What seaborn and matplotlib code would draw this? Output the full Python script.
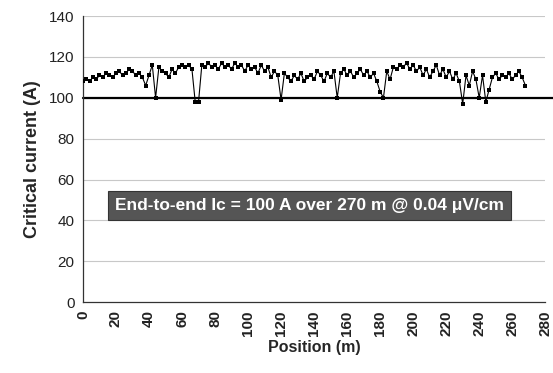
import numpy as np
import pandas as pd
import matplotlib
matplotlib.use('Agg')
import matplotlib.pyplot as plt
import seaborn as sns

# critical current, one value every 2 m
ic_0_38 = [108, 109, 108, 110, 109, 111, 110, 112, 111, 110,
           112, 113, 111, 112, 114, 113, 111, 112, 110, 106]
ic_40_78 = [111, 116, 100, 115, 113, 112, 110, 114, 112, 115,
            116, 115, 116, 114, 98, 98, 116, 115, 117, 115]
ic_80_118 = [116, 114, 117, 115, 116, 114, 117, 115, 116, 113,
             116, 114, 115, 112, 116, 113, 115, 110, 113, 111]
ic_120_158 = [99, 112, 110, 108, 111, 109, 112, 108, 110, 111,
              109, 113, 111, 108, 112, 110, 113, 100, 112, 114]
ic_160_198 = [111, 113, 110, 112, 114, 111, 113, 110, 112, 108,
              103, 100, 113, 109, 115, 114, 116, 115, 117, 114]
ic_200_238 = [116, 113, 115, 111, 114, 110, 113, 116, 111, 114,
              110, 113, 109, 112, 108, 97, 111, 106, 113, 109]
ic_240_268 = [100, 111, 98, 104, 110, 112, 109, 111, 110, 112,
              109, 111, 113, 110, 106]

current = ic_0_38 + ic_40_78 + ic_80_118 + ic_120_158 + ic_160_198 + ic_200_238 + ic_240_268
position = np.arange(0, 2 * len(current), 2)

y_ticks = [0, 20, 40, 60, 80, 100, 120, 140]
x_ticks = list(range(0, 281, 20))
ic_threshold = 100
note = 'End-to-end Ic = 100 A over 270 m @ 0.04 \u03bcV/cm'

df = pd.DataFrame({'position': position, 'current': current})

sns.set_style('white')
plt.rcParams['font.family'] = ['Liberation Sans', 'DejaVu Sans']

fig = plt.figure(figsize=(5.53, 3.73), dpi=100)
ax = fig.add_axes([0.150, 0.190, 0.836, 0.767])

for yv in y_ticks[1:]:
    ax.axhline(yv, color='#c8c8c8', lw=0.8, zorder=0)

sns.lineplot(data=df, x='position', y='current', ax=ax, color='black', lw=0.8,
             marker='s', markersize=2.5, markeredgewidth=0, zorder=3)

ax.axhline(ic_threshold, xmin=0, xmax=1.03, color='black', lw=1.6, clip_on=False, zorder=2)

ax.set_xlim(0, 280)
ax.set_ylim(0, 140)
ax.set_xticks(x_ticks)
ax.set_yticks(y_ticks)
ax.set_xticklabels([str(t) for t in x_ticks], rotation=90, fontsize=11, fontweight='bold', color='#222222')
ax.set_yticklabels([str(t) for t in y_ticks], fontsize=11, color='#222222')
ax.tick_params(axis='both', direction='out', length=3, width=0.8, color='#444444', pad=3)

for side in ['top', 'right']:
    ax.spines[side].set_visible(False)
for side in ['left', 'bottom']:
    ax.spines[side].set_color('#333333')
    ax.spines[side].set_linewidth(0.9)

ax.set_xlabel('Position (m)', fontsize=11.5, fontweight='bold', labelpad=3)
ax.set_ylabel('Critical current (A)', fontsize=13, fontweight='bold', labelpad=6)

ax.text(137, 47.5, note, ha='center', va='center', color='white', fontsize=12.5,
        fontweight='bold', zorder=5,
        bbox=dict(boxstyle='square,pad=0.4', facecolor='#555555', edgecolor='#333333', lw=0.8))

fig.savefig('out.png', dpi=100)
